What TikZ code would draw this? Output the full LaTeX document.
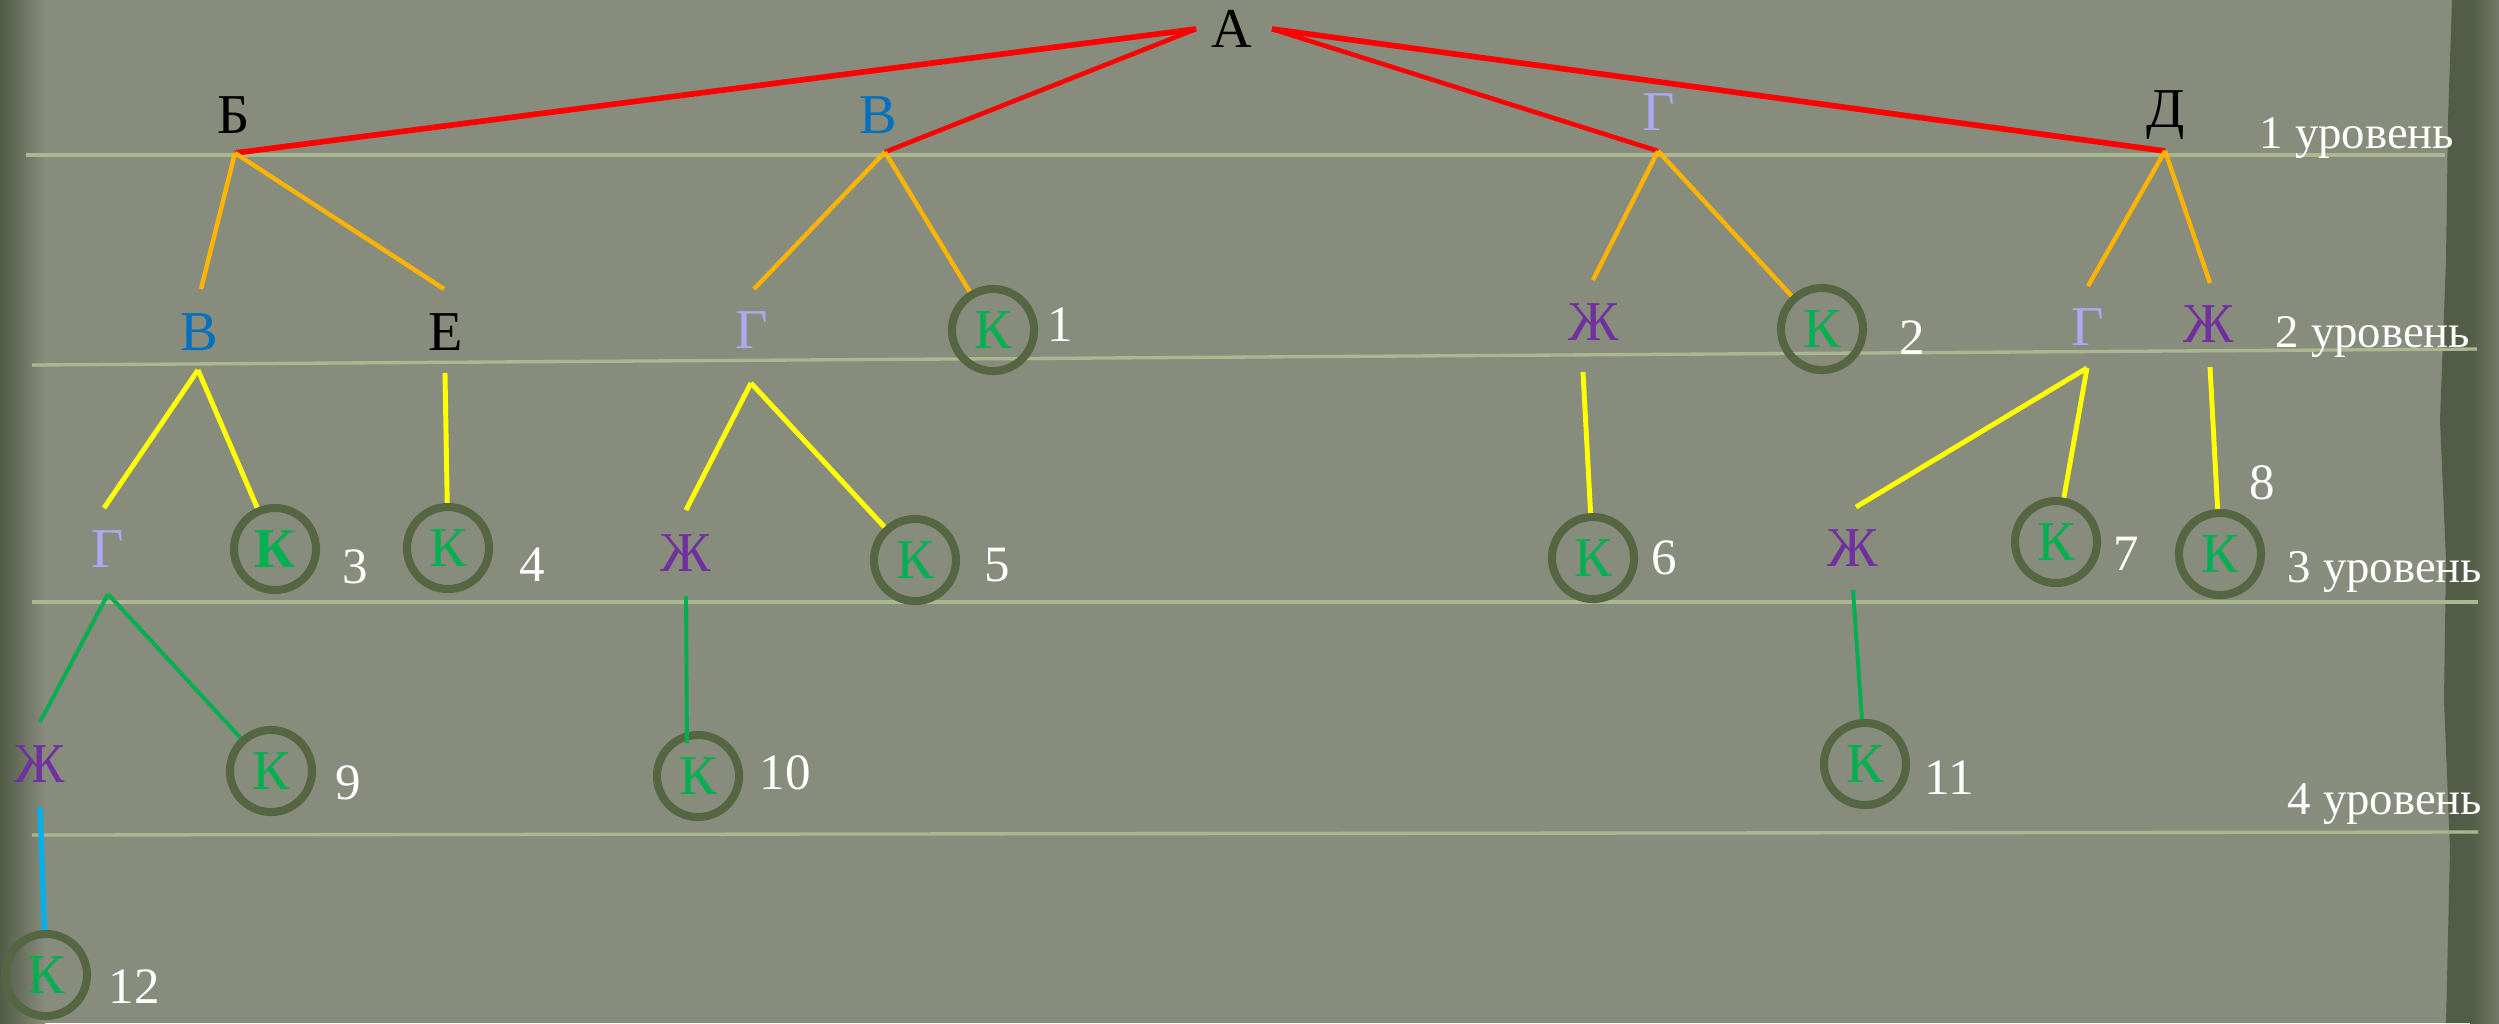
\documentclass[tikz,border=0pt]{standalone}
\usepackage{fontspec}
\setmainfont{Liberation Serif}
\definecolor{bg}{RGB}{135,140,124}
\definecolor{bgdark}{RGB}{82,92,70}
\definecolor{lvline}{RGB}{170,184,146}
\definecolor{circ}{RGB}{86,101,66}
\definecolor{kgreen}{RGB}{0,176,80}
\definecolor{vblue}{RGB}{0,112,192}
\definecolor{glav}{RGB}{172,168,240}
\definecolor{zhpur}{RGB}{112,48,160}
\definecolor{orng}{RGB}{255,180,0}
\definecolor{yel}{RGB}{255,255,0}
\definecolor{cyn}{RGB}{0,176,240}
\tikzset{
  lt/.style={inner sep=0pt, font=\fontsize{16}{19}\selectfont},
  kc/.style={circle, draw=circ, line width=2.3pt, minimum size=0.82cm, inner sep=0pt,
             text=kgreen, font=\fontsize{16}{19}\selectfont},
  num/.style={inner sep=0pt, text=white, font=\fontsize{14.5}{17}\selectfont},
  lvl/.style={inner sep=0pt, text=white, font=\fontsize{13.3}{16}\selectfont},
  lvlline/.style={draw=lvline, line width=0.95pt},
  redthick/.style={draw=red, line width=1.6pt},
  redthin/.style={draw=red, line width=1.3pt},
  oredge/.style={draw=orng, line width=1.25pt},
  yeedge/.style={draw=yel, line width=1.4pt},
  gredge/.style={draw=kgreen, line width=1.1pt},
  cyedge/.style={draw=cyn, line width=1.5pt},
}
\begin{document}
\begin{tikzpicture}[x=0.01cm,y=-0.01cm]
% background
\fill[bg] (0,0) rectangle (2499,1023);
\useasboundingbox (0,0) rectangle (2499,1023);
\shade[left color=bgdark, right color=bg] (0,0) rectangle (45,1023);
\fill[bgdark] (2452,0) -- (2448,120) -- (2446,260) -- (2440,420) -- (2446,560) -- (2444,700) -- (2450,850) -- (2446,1023) -- (2499,1023) -- (2499,0) -- cycle;
\shade[left color=bgdark, right color=bg!60!bgdark] (2470,0) rectangle (2499,1023);

% level lines
\draw[lvlline] (26,155) -- (2445,155);
\draw[lvlline] (32,365) -- (2477,349);
\draw[lvlline] (32,602) -- (2478,602);
\draw[lvlline] (32,835) -- (2478,832);

% level labels
\node[lvl] (lv1) at (2357,138) {1 уровень};
\node[lvl] (lv2) at (2373,337) {2 уровень};
\node[lvl] (lv3) at (2385,572) {3 уровень};
\node[lvl] (lv4) at (2385,804) {4 уровень};

% level 0
\node[lt] (A) at (1232,29) {А};
\coordinate (Al) at (1196,29);
\coordinate (Ar) at (1272,29);

% level 1
\node[lt] (B1) at (234,115) {Б};
\node[lt, text=vblue] (V1) at (878,115) {В};
\node[lt, text=glav] (G1) at (1659,112) {Г};
\node[lt] (D1) at (2166,115) {Д};
\coordinate (jB) at (235,153);
\coordinate (jV) at (885,152);
\coordinate (jG) at (1658,151);
\coordinate (jD) at (2165,151);

% level 2
\node[lt, text=vblue] (V2) at (199,332) {В};
\coordinate (V2t) at (201,289); \coordinate (V2b) at (198,370);
\node[lt] (E2) at (446,332) {Е};
\coordinate (E2t) at (444,289); \coordinate (E2b) at (445,373);
\node[lt, text=glav] (G2) at (752,330) {Г};
\coordinate (G2t) at (754,289); \coordinate (G2b) at (751,383);
\node[kc] (K1) at (993,330) {К};
\node[num] (n1) at (1060,325) {1};
\node[lt, text=zhpur] (Zh2) at (1594,322) {Ж};
\coordinate (Zh2t) at (1593,280); \coordinate (Zh2b) at (1583,372);
\node[kc] (K2) at (1822,329) {К};
\node[num] (n2) at (1912,338) {2};
\node[lt, text=glav] (G2r) at (2088,327) {Г};
\coordinate (G2rt) at (2088,286); \coordinate (G2rb) at (2087,368);
\node[lt, text=zhpur] (Zh2r) at (2209,324) {Ж};
\coordinate (Zh2rt) at (2210,283); \coordinate (Zh2rb) at (2210,367);

% level 3
\node[lt, text=glav] (G3) at (108,549) {Г};
\coordinate (G3t) at (104,508); \coordinate (G3b) at (108,594);
\node[kc, font=\fontsize{16}{19}\selectfont\bfseries] (K3) at (275,549) {К};
\node[num] (n3) at (355,567) {3};
\node[kc] (K4) at (448,548) {К};
\node[num] (n4) at (532,565) {4};
\node[lt, text=zhpur] (Zh3) at (686,553) {Ж};
\coordinate (Zh3t) at (686,510); \coordinate (Zh3b) at (686,596);
\node[kc] (K5) at (915,560) {К};
\node[num] (n5) at (997,565) {5};
\node[kc] (K6) at (1593,558) {К};
\node[num] (n6) at (1664,558) {6};
\node[lt, text=zhpur] (Zh3r) at (1853,548) {Ж};
\coordinate (Zh3rt) at (1856,507); \coordinate (Zh3rb) at (1853,590);
\node[kc] (K7) at (2056,542) {К};
\node[num] (n7) at (2126,554) {7};
\node[kc] (K8) at (2220,554) {К};
\node[num] (n8) at (2262,483) {8};

% level 4
\node[lt, text=zhpur] (Zh4) at (40,764) {Ж};
\coordinate (Zh4t) at (40,722); \coordinate (Zh4b) at (40,807);
\node[kc] (K9) at (271,771) {К};
\node[num] (n9) at (348,783) {9};
\node[kc] (K10) at (698,776) {К};
\coordinate (K10t) at (687,743);
\node[num] (n10) at (785,773) {10};
\node[kc] (K11) at (1865,764) {К};
\node[num] (n11) at (1949,778) {11};

% level 5
\node[kc] (K12) at (46,975) {К};
\node[num] (n12) at (134,987) {12};

% red edges
\draw[redthick] (Al) -- (jB);
\draw[redthin] (Al) -- (jV);
\draw[redthin] (Ar) -- (jG);
\draw[redthick] (Ar) -- (jD);

% orange edges
\draw[oredge] (jB) -- (V2t);
\draw[oredge] (jB) -- (E2t);
\draw[oredge] (jV) -- (G2t);
\draw[oredge] (jV) -- (K1);
\draw[oredge] (jG) -- (Zh2t);
\draw[oredge] (jG) -- (K2);
\draw[oredge] (jD) -- (G2rt);
\draw[oredge] (jD) -- (Zh2rt);

% yellow edges
\draw[yeedge] (V2b) -- (G3t);
\draw[yeedge] (V2b) -- (K3);
\draw[yeedge] (E2b) -- (K4);
\draw[yeedge] (G2b) -- (Zh3t);
\draw[yeedge] (G2b) -- (K5);
\draw[yeedge] (Zh2b) -- (K6);
\draw[yeedge] (G2rb) -- (Zh3rt);
\draw[yeedge] (G2rb) -- (K7);
\draw[yeedge] (Zh2rb) -- (K8);

% green edges
\draw[gredge] (G3b) -- (Zh4t);
\draw[gredge] (G3b) -- (K9);
\draw[gredge] (Zh3b) -- (K10t);
\draw[gredge] (Zh3rb) -- (K11);

% cyan edge
\draw[cyedge] (Zh4b) -- (K12);
\end{tikzpicture}
\end{document}
